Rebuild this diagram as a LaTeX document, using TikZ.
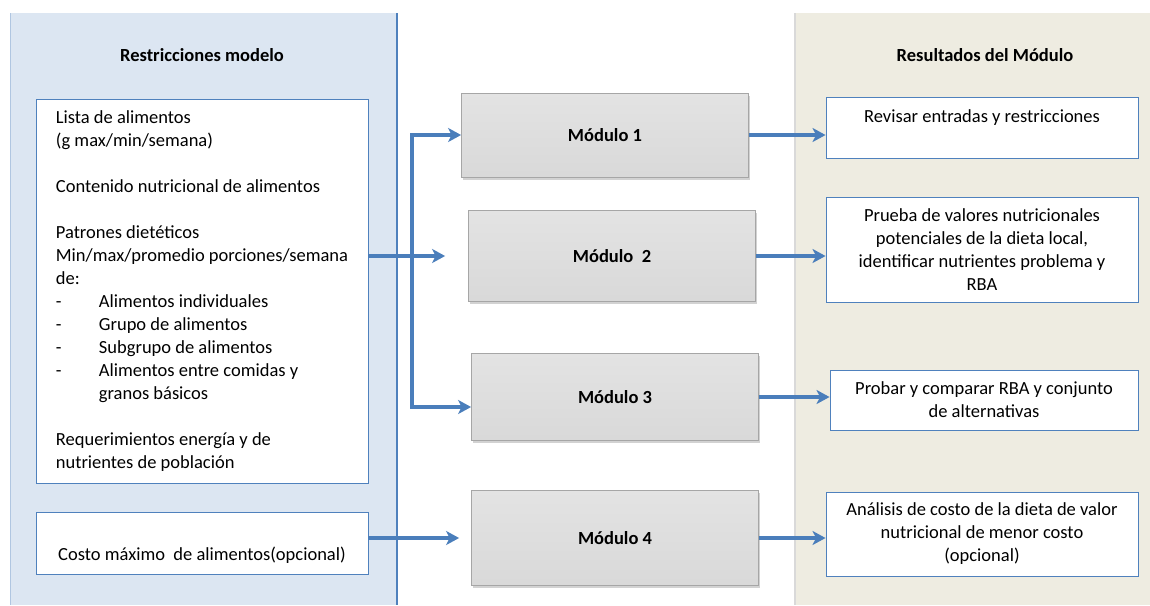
\documentclass[tikz,border=0pt]{standalone}
\usepackage{fontspec}
\setmainfont{Carlito}
\usetikzlibrary{arrows.meta,positioning,calc,shadows}
\definecolor{lineblue}{RGB}{74,126,187}
\definecolor{boxblue}{RGB}{79,129,189}
\definecolor{panelblue}{RGB}{220,230,242}
\definecolor{panelsand}{RGB}{238,236,225}
\tikzset{
  box/.style={draw=boxblue, line width=0.9pt, fill=white, inner sep=3pt, font=\fontsize{18.5}{23}\selectfont},
  resbox/.style={box, align=center, minimum width=312pt},
  modbox/.style={draw=black!35, line width=0.8pt, top color=black!11, bottom color=black!15,
    minimum width=287pt, minimum height=87pt, font=\bfseries\fontsize{18.5}{23}\selectfont,
    drop shadow={shadow xshift=1.5pt, shadow yshift=-2.5pt, opacity=0.35}},
  title/.style={font=\bfseries\fontsize{18.5}{23}\selectfont},
  arrow/.style={-{Stealth[length=13pt, width=14pt, inset=3.5pt]}, line width=3.6pt, draw=lineblue},
}

\begin{document}
\begin{tikzpicture}[x=1pt,y=-1pt]
  \useasboundingbox[fill=white] (0,0) rectangle (1150,605);
  % side panels
  \fill[panelblue] (10,13) rectangle (397,605);
  \draw[boxblue!45, line width=1pt] (10,13) -- (10,605);
  \draw[boxblue, line width=1.5pt] (397,13) -- (397,605);
  \fill[panelsand] (795,13) rectangle (1150,605);
  \draw[black!15, line width=1.5pt] (795,13) -- (795,605);

  \node[title] (restr) at (202,55) {Restricciones modelo};
  \node[title] (result) at (985,55) {Resultados del Módulo};

  % inputs
  \node[box, align=left, minimum width=332pt, minimum height=384pt] (lista) at (202,291) {%
    Lista de alimentos\\
    (g max/min/semana)\\[23pt]
    Contenido nutricional de alimentos\\[23pt]
    Patrones dietéticos\\
    Min/max/promedio porciones/semana\\
    de:\\
    \makebox[43pt][l]{-}Alimentos individuales\\
    \makebox[43pt][l]{-}Grupo de alimentos\\
    \makebox[43pt][l]{-}Subgrupo de alimentos\\
    \makebox[43pt][l]{-}Alimentos entre comidas y\\
    \hspace*{43pt}granos básicos\\[23pt]
    Requerimientos energía y de\\
    nutrientes de población};
  \node[box, align=center, minimum width=332pt, minimum height=62pt] (costo) at (202,543)
    {\mbox{}\\[14pt]Costo máximo\ \ de alimentos(opcional)};

  % modules
  \node[modbox, minimum height=84pt] (mod1) at (605,135) {Módulo 1};
  \node[modbox, minimum height=91pt] (mod2) at (612,256) {Módulo\ \ 2};
  \node[modbox] (mod3) at (615,397) {Módulo 3};
  \node[modbox, minimum height=95pt] (mod4) at (615,538) {Módulo 4};

  % outputs
  \node[resbox, minimum height=61pt] (res1) at (982,127.5) {Revisar entradas y restricciones\\\mbox{}};
  \node[resbox, minimum height=105pt] (res2) at (982,249.5) {Prueba de valores nutricionales\\
    potenciales de la dieta local,\\identificar nutrientes problema y\\RBA};
  \node[resbox, minimum width=308pt, minimum height=60pt] (res3) at (984,400) {Probar y comparar RBA y conjunto\\
    de alternativas};
  \node[resbox, minimum height=84pt] (res4) at (982,534) {Análisis de costo de la dieta de valor\\
    nutricional de menor costo\\(opcional)};

  % connectors
  \coordinate (split) at (412,256);
  \draw[arrow, shorten >=23pt] (lista.east |- mod2.west) -- (mod2.west);
  \draw[arrow] (split) |- (mod1.west);
  \draw[arrow] (split) |- ([yshift=-10pt]mod3.west);
  \draw[arrow, shorten >=12pt] (costo.east |- mod4.west) -- (mod4.west);
  \foreach \i in {1,...,4}
    \draw[arrow] (mod\i.east) -- (mod\i.east -| res\i.west);
\end{tikzpicture}
\end{document}
